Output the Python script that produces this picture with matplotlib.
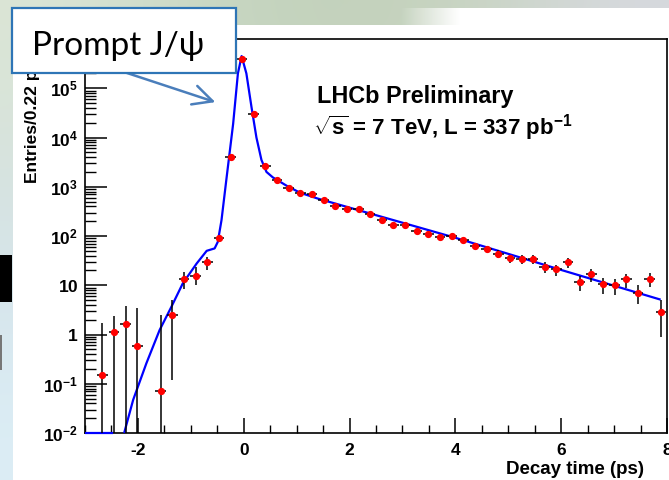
import numpy as np
import matplotlib
matplotlib.use("Agg")
import matplotlib.pyplot as plt
from matplotlib.patches import Rectangle

# ---- measured histogram (Entries / 0.22 ps) ----
bin_centers = [-2.67, -2.45, -2.23, -2.01, -1.57, -1.35, -1.13, -0.91, -0.69, -0.47,
               -0.25, -0.03, 0.19, 0.41, 0.63, 0.85, 1.07, 1.29, 1.51, 1.73,
               1.95, 2.17, 2.39, 2.61, 2.83, 3.05, 3.27, 3.49, 3.71, 3.93,
               4.15, 4.37, 4.59, 4.81, 5.03, 5.25, 5.47, 5.69, 5.91, 6.13,
               6.35, 6.57, 6.79, 7.01, 7.23, 7.45, 7.67, 7.89]
entries = [0.15, 1.13, 1.63, 0.59, 0.071, 2.47, 13.7, 15.5, 29.0, 91.0,
           4.0e3, 4.0e5, 2.95e4, 2.6e3, 1.4e3, 960.0, 760.0, 700.0, 532.0, 408.0,
           350.0, 361.0, 286.0, 216.0, 171.0, 166.0, 125.0, 109.0, 94.6, 99.0,
           82.0, 62.0, 55.7, 44.0, 35.0, 34.3, 33.9, 23.6, 20.9, 29.0,
           11.4, 16.6, 10.5, 9.9, 13.1, 7.1, 13.3, 2.9]
err_low = [0.15, 1.13, 1.63, 0.59, 0.071, 2.35, 5.4, 5.5, 8.8, 10.0,
           65.0, 630.0, 170.0, 50.0, 37.0, 31.0, 27.0, 26.0, 23.0, 20.0,
           19.0, 19.0, 17.0, 15.0, 13.5, 13.0, 11.5, 10.5, 10.0, 10.0,
           9.5, 8.5, 8.0, 7.5, 6.8, 6.7, 6.7, 5.6, 5.3, 6.2,
           3.9, 4.7, 3.8, 3.7, 4.2, 3.0, 4.2, 2.0]
err_high = [1.55, 1.23, 2.19, 2.84, 2.40, 2.52, 5.0, 8.1, 8.7, 10.0,
            65.0, 630.0, 170.0, 50.0, 37.0, 31.0, 27.0, 26.0, 23.0, 20.0,
            19.0, 19.0, 17.0, 15.0, 13.5, 13.0, 11.5, 10.5, 10.0, 10.0,
            9.5, 8.5, 8.0, 7.5, 6.8, 6.7, 6.7, 5.6, 5.3, 6.2,
            3.9, 4.7, 3.8, 3.7, 4.2, 3.0, 4.2, 2.2]
half_bin = 0.1

# ---- fit curve, sampled along its drawn path ----
fit_t = [-3.0, -2.47, np.nan, -2.26, -2.09, -1.84, -1.59, -1.37, -1.15, -0.89,
         -0.70, -0.55, -0.49, -0.42, -0.33, -0.20, -0.11, -0.04, 0.05, 0.146,
         0.24, 0.335, 0.43, 0.55, 0.81, 1.06, 1.40, 4.0, 6.03, 7.88]
fit_val = [0.01, 0.01, np.nan, 0.01, 0.047, 0.26, 1.23, 3.6, 11.0, 27.6,
           50.0, 56.0, 76.0, 210.0, 1.35e3, 1.9e4, 2.0e5, 4.5e5, 2.0e5, 4.2e4,
           1.0e4, 3.5e3, 2.0e3, 1.55e3, 1.05e3, 760.0, 575.0, 92.0, 20.0, 5.1]

y_tick_vals = [1e-2, 1e-1, 1, 10, 1e2, 1e3, 1e4, 1e5]
y_tick_text = [r"$10^{-2}$", r"$10^{-1}$", r"$1$", r"$10$",
               r"$10^{2}$", r"$10^{3}$", r"$10^{4}$", r"$10^{5}$"]
x_tick_vals = [-2, 0, 2, 4, 6, 8]

plt.rcParams["mathtext.fontset"] = "custom"
plt.rcParams["mathtext.rm"] = "Liberation Sans:bold"
plt.rcParams["mathtext.bf"] = "Liberation Sans:bold"
plt.rcParams["mathtext.it"] = "Liberation Sans:bold"
plt.rcParams["mathtext.sf"] = "Liberation Sans:bold"

W, H = 669, 480
fig = plt.figure(figsize=(W / 100, H / 100), dpi=100)

# slide backdrop behind the canvas
bg = fig.add_axes([0, 0, 1, 1], zorder=-10)
bg.axis("off")
backdrop = np.array([
    [[0.86, 0.90, 0.84], [0.78, 0.84, 0.76], [0.76, 0.82, 0.73], [0.78, 0.83, 0.75], [0.84, 0.85, 0.87]],
    [[0.84, 0.89, 0.88], [0.82, 0.87, 0.82], [0.80, 0.85, 0.80], [0.84, 0.86, 0.84], [0.88, 0.89, 0.90]],
    [[0.84, 0.90, 0.93], [0.86, 0.91, 0.93], [0.88, 0.92, 0.93], [0.90, 0.92, 0.93], [0.92, 0.93, 0.94]],
    [[0.86, 0.93, 0.96], [0.88, 0.93, 0.96], [0.90, 0.94, 0.96], [0.92, 0.94, 0.96], [0.93, 0.95, 0.96]],
])
bg.imshow(backdrop, extent=[0, 1, 0, 1], aspect="auto", interpolation="bicubic")
bg.set_xlim(0, 1)
bg.set_ylim(0, 1)

# white canvas; it reaches higher towards the right-hand side
fig.patches.append(Rectangle((13 / W, 0), 1 - 13 / W, 1 - 25 / H, transform=fig.transFigure,
                             facecolor="white", edgecolor="none", zorder=-5))
fade = np.ones((2, 64, 4))
fade[..., 3] = np.linspace(0.0, 1.0, 64)[None, :]
bg.imshow(fade, extent=[400 / W, 460 / W, 1 - 25 / H, 1 - 8 / H], aspect="auto", zorder=5)
fig.patches.append(Rectangle((460 / W, 1 - 25 / H), 1 - 460 / W, 17 / H, transform=fig.transFigure,
                             facecolor="white", edgecolor="none", zorder=-5))
# slide elements peeking in at the left edge
fig.patches.append(Rectangle((0, 1 - 302 / H), 12 / W, 47 / H, transform=fig.transFigure,
                             facecolor="black", edgecolor="none", zorder=-4))
fig.patches.append(Rectangle((0, 1 - 370 / H), 2 / W, 35 / H, transform=fig.transFigure,
                             facecolor="#777777", edgecolor="none", zorder=-4))

ax = fig.add_axes([85 / W, 47 / H, 582 / W, 394 / H])
ax.set_facecolor("white")
ax.set_yscale("log")
ax.set_xlim(-3.0, 8.0)
ax.set_ylim(1e-2, 1e6)

ax.plot(fit_t, fit_val, color="#0000ff", lw=1.6, zorder=3, clip_on=False, solid_capstyle="butt")

ax.errorbar(bin_centers, entries, xerr=half_bin,
            yerr=[np.array(err_low) * 0.9999, err_high],
            fmt="none", ecolor="black", elinewidth=1.1, capsize=0, zorder=4)
ax.plot(bin_centers, entries, "o", color="#ff0000", ms=4.2, mec="#ff0000", zorder=5)

for s in ax.spines.values():
    s.set_linewidth(1.2)
    s.set_color("black")

ax.set_yticks(y_tick_vals)
ax.set_yticklabels(y_tick_text)
ax.yaxis.set_minor_locator(matplotlib.ticker.LogLocator(base=10, subs=np.arange(2, 10), numticks=20))
ax.yaxis.set_minor_formatter(matplotlib.ticker.NullFormatter())
ax.set_xticks(x_tick_vals)
ax.set_xticklabels([str(v) for v in x_tick_vals])
ax.xaxis.set_minor_locator(matplotlib.ticker.MultipleLocator(0.5))

ax.tick_params(axis="y", which="major", direction="in", length=16, width=1.1, pad=5, labelsize=12.5)
ax.tick_params(axis="y", which="minor", direction="in", length=8, width=1.0)
ax.tick_params(axis="x", which="major", direction="in", length=11, width=1.1, pad=7, labelsize=12.5)
ax.tick_params(axis="x", which="minor", direction="in", length=6, width=1.0)
for lab in ax.get_xticklabels() + ax.get_yticklabels():
    lab.set_fontfamily("Liberation Sans")
    lab.set_fontweight("bold")

fig.text(644 / W, 1 - 474 / H, "Decay time (ps)", ha="right", va="baseline",
         fontsize=13.5, fontweight="bold", family="Liberation Sans")
fig.text(32 / W, 1 - 183 / H, "Entries/0.22 ps", rotation=90, ha="center", va="bottom",
         fontsize=12.5, fontweight="bold", family="Liberation Sans")

fig.text(317 / W, 1 - 103 / H, "LHCb Preliminary", ha="left", va="baseline",
         fontsize=16.8, fontweight="bold", family="Liberation Sans")
fig.text(313 / W, 1 - 135 / H, r"$\sqrt{s}$ = 7 TeV, L = 337 pb$^{-1}$", ha="left", va="baseline",
         fontsize=16, fontweight="bold", family="Liberation Sans")

# callout box with arrow
fig.patches.append(Rectangle((12 / W, 1 - 73 / H), 224 / W, 65 / H, transform=fig.transFigure,
                             facecolor="white", edgecolor="#2e75b6", lw=1.6, zorder=20))
fig.text(32 / W, 1 - 55 / H, "Prompt J/ψ", ha="left", va="baseline", fontsize=24,
         family=["Lato", "DejaVu Sans"], color="black", zorder=21)
fig.add_artist(matplotlib.patches.FancyArrowPatch(
    (124 / W, 1 - 72 / H), (218 / W, 1 - 103 / H), transform=fig.transFigure,
    arrowstyle="->,head_length=1.0,head_width=0.5", mutation_scale=14,
    color="#4a7ebb", lw=1.8, zorder=19))

fig.savefig("out.png", dpi=100)
